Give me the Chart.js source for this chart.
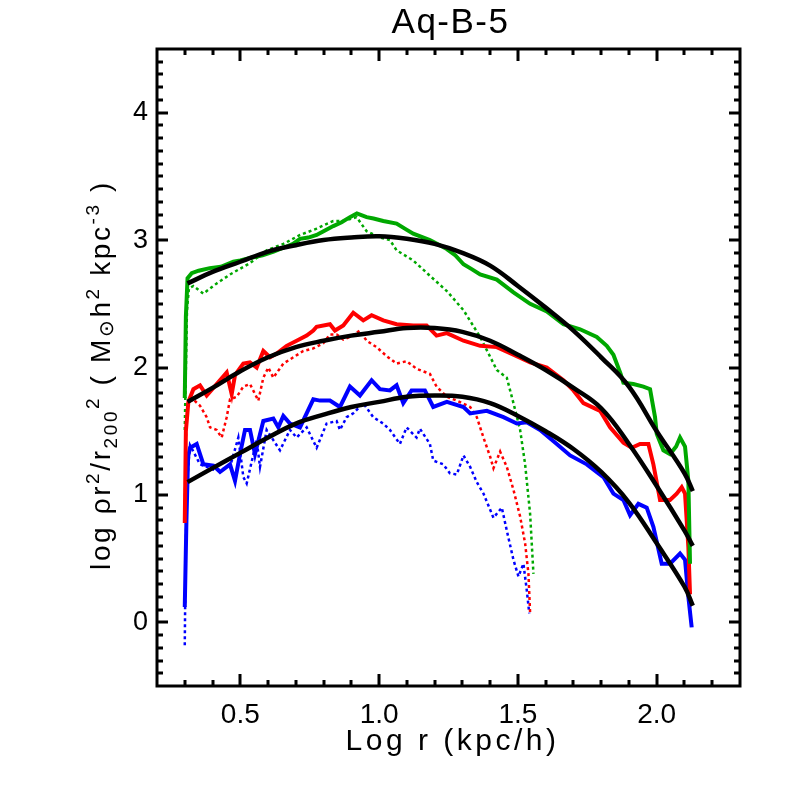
<!DOCTYPE html>
<html>
<head>
<meta charset="utf-8">
<script src="https://cdn.jsdelivr.net/npm/chart.js@4.4.0/dist/chart.umd.min.js"></script>
<style>
  html, body { margin: 0; padding: 0; background: #fff; }
  #wrap { width: 786px; height: 786px; }
</style>
</head>
<body>
<div id="wrap"><canvas id="chart" width="786" height="786"></canvas></div>
<script>
const titleText = 'Aq-B-5';
const xTitle = 'Log r (kpc/h)';
const xTickValues = [0.5, 1.0, 1.5, 2.0];
const yTickValues = [0, 1, 2, 3, 4];

// solid profiles
const greenSolidX = [0.300, 0.304, 0.310, 0.325, 0.35, 0.39, 0.43, 0.475, 0.50, 0.535, 0.58, 0.62, 0.655, 0.69, 0.715, 0.745, 0.775, 0.80, 0.835, 0.865, 0.895, 0.92, 0.955, 0.98, 1.015, 1.063, 1.10, 1.123, 1.183, 1.244, 1.275, 1.304, 1.335, 1.364, 1.424, 1.484, 1.544, 1.604, 1.664, 1.724, 1.784, 1.82, 1.844, 1.87, 1.88, 1.916, 1.952, 1.976, 1.994, 2.00, 2.024, 2.048, 2.07, 2.084, 2.102, 2.114, 2.12];
const greenSolidY = [1.76, 2.40, 2.70, 2.74, 2.76, 2.78, 2.79, 2.83, 2.84, 2.86, 2.88, 2.91, 2.94, 2.97, 3.01, 3.02, 3.04, 3.07, 3.11, 3.14, 3.18, 3.21, 3.18, 3.17, 3.15, 3.13, 3.08, 3.05, 3.00, 2.93, 2.88, 2.81, 2.77, 2.73, 2.69, 2.59, 2.50, 2.44, 2.34, 2.30, 2.24, 2.17, 2.10, 1.95, 1.88, 1.87, 1.85, 1.83, 1.61, 1.48, 1.35, 1.32, 1.38, 1.45, 1.38, 1.11, 0.46];

const redSolidX = [0.300, 0.304, 0.313, 0.331, 0.355, 0.379, 0.415, 0.451, 0.469, 0.481, 0.511, 0.535, 0.559, 0.583, 0.607, 0.631, 0.667, 0.703, 0.739, 0.763, 0.775, 0.823, 0.841, 0.871, 0.907, 0.943, 0.973, 1.015, 1.063, 1.123, 1.171, 1.207, 1.244, 1.304, 1.364, 1.424, 1.484, 1.544, 1.604, 1.664, 1.700, 1.736, 1.796, 1.832, 1.880, 1.910, 1.940, 1.970, 1.988, 2.012, 2.048, 2.072, 2.090, 2.102, 2.114, 2.120];
const redSolidY = [0.78, 1.50, 1.73, 1.83, 1.86, 1.78, 1.87, 1.96, 1.79, 1.94, 2.03, 2.04, 2.00, 2.13, 2.08, 2.11, 2.17, 2.21, 2.25, 2.29, 2.32, 2.34, 2.29, 2.33, 2.43, 2.37, 2.41, 2.37, 2.34, 2.33, 2.33, 2.25, 2.27, 2.21, 2.17, 2.16, 2.10, 2.04, 2.00, 1.90, 1.82, 1.72, 1.66, 1.53, 1.41, 1.37, 1.40, 1.40, 1.24, 0.96, 0.96, 1.01, 1.06, 1.01, 0.59, 0.22];

const blueSolidX = [0.300, 0.306, 0.312, 0.319, 0.343, 0.367, 0.403, 0.427, 0.463, 0.481, 0.499, 0.517, 0.535, 0.553, 0.583, 0.619, 0.637, 0.655, 0.679, 0.715, 0.763, 0.787, 0.823, 0.859, 0.895, 0.931, 0.973, 1.003, 1.039, 1.063, 1.087, 1.117, 1.165, 1.195, 1.244, 1.304, 1.328, 1.388, 1.448, 1.496, 1.532, 1.580, 1.640, 1.688, 1.748, 1.808, 1.844, 1.880, 1.904, 1.934, 1.964, 1.988, 2.018, 2.048, 2.084, 2.102, 2.114, 2.126];
const blueSolidY = [0.12, 0.80, 1.30, 1.37, 1.40, 1.24, 1.23, 1.18, 1.24, 1.11, 1.32, 1.51, 1.51, 1.32, 1.58, 1.60, 1.53, 1.62, 1.56, 1.53, 1.75, 1.74, 1.74, 1.69, 1.85, 1.78, 1.90, 1.83, 1.82, 1.86, 1.72, 1.82, 1.82, 1.69, 1.73, 1.69, 1.64, 1.66, 1.61, 1.56, 1.57, 1.51, 1.40, 1.31, 1.24, 1.14, 1.01, 0.96, 0.84, 0.93, 0.90, 0.75, 0.46, 0.46, 0.54, 0.49, 0.20, -0.04];

// dotted profiles
const greenDotX = [0.300, 0.302, 0.308, 0.315, 0.331, 0.367, 0.415, 0.463, 0.511, 0.535, 0.595, 0.655, 0.715, 0.775, 0.835, 0.871, 0.919, 0.955, 1.003, 1.039, 1.063, 1.123, 1.183, 1.244, 1.304, 1.364, 1.424, 1.460, 1.484, 1.508, 1.526, 1.544, 1.556];
const greenDotY = [1.51, 1.76, 2.45, 2.62, 2.64, 2.58, 2.66, 2.73, 2.79, 2.82, 2.92, 2.97, 3.04, 3.09, 3.15, 3.15, 3.18, 3.07, 3.02, 3.00, 2.92, 2.84, 2.72, 2.60, 2.45, 2.24, 1.98, 1.92, 1.72, 1.51, 1.24, 0.85, 0.38];

const redDotX = [0.300, 0.303, 0.310, 0.330, 0.355, 0.379, 0.391, 0.415, 0.433, 0.451, 0.463, 0.487, 0.511, 0.535, 0.565, 0.583, 0.601, 0.619, 0.655, 0.691, 0.727, 0.763, 0.799, 0.823, 0.847, 0.871, 0.895, 0.931, 0.955, 0.991, 1.027, 1.063, 1.099, 1.135, 1.183, 1.207, 1.244, 1.280, 1.328, 1.352, 1.376, 1.400, 1.412, 1.436, 1.460, 1.484, 1.508, 1.526, 1.538, 1.544];
const redDotY = [0.80, 1.40, 1.72, 1.75, 1.70, 1.61, 1.53, 1.51, 1.45, 1.61, 1.75, 1.77, 1.85, 1.87, 1.74, 1.92, 2.00, 1.92, 2.03, 2.08, 2.13, 2.15, 2.19, 2.26, 2.26, 2.22, 2.24, 2.29, 2.21, 2.16, 2.09, 2.03, 2.05, 1.99, 1.95, 1.85, 1.77, 1.74, 1.69, 1.61, 1.45, 1.30, 1.21, 1.34, 1.22, 1.04, 0.83, 0.62, 0.38, 0.07];

const blueDotX = [0.300, 0.303, 0.308, 0.319, 0.355, 0.415, 0.463, 0.493, 0.511, 0.523, 0.559, 0.571, 0.595, 0.619, 0.643, 0.679, 0.703, 0.739, 0.775, 0.811, 0.847, 0.859, 0.883, 0.907, 0.943, 0.979, 1.015, 1.039, 1.075, 1.099, 1.135, 1.147, 1.183, 1.195, 1.231, 1.255, 1.280, 1.304, 1.328, 1.352, 1.376, 1.412, 1.442, 1.460, 1.484, 1.502, 1.520, 1.532, 1.541];
const blueDotY = [-0.18, 0.50, 1.10, 1.39, 1.24, 1.19, 1.22, 1.45, 1.14, 1.09, 1.43, 1.22, 1.51, 1.43, 1.35, 1.51, 1.45, 1.53, 1.37, 1.56, 1.58, 1.51, 1.61, 1.64, 1.72, 1.61, 1.56, 1.51, 1.40, 1.53, 1.45, 1.52, 1.40, 1.27, 1.24, 1.17, 1.16, 1.31, 1.22, 1.10, 1.01, 0.82, 0.90, 0.72, 0.49, 0.36, 0.46, 0.25, 0.07];

// fitted curves (black)
const fitX = [0.31, 0.4, 0.5, 0.6, 0.7, 0.8, 0.9, 1.0, 1.1, 1.2, 1.3, 1.4, 1.5, 1.6, 1.7, 1.8, 1.9, 2.0, 2.1, 2.13];
const greenFitY = [2.66, 2.75, 2.83, 2.91, 2.96, 3.00, 3.02, 3.03, 3.01, 2.97, 2.90, 2.80, 2.64, 2.47, 2.29, 2.08, 1.85, 1.50, 1.17, 1.03];
const redFitY = [1.73, 1.84, 1.97, 2.08, 2.16, 2.21, 2.25, 2.28, 2.31, 2.31, 2.28, 2.21, 2.10, 1.98, 1.84, 1.68, 1.40, 1.07, 0.72, 0.60];
const blueFitY = [1.10, 1.21, 1.33, 1.45, 1.56, 1.63, 1.69, 1.73, 1.77, 1.78, 1.77, 1.72, 1.62, 1.50, 1.36, 1.18, 0.94, 0.62, 0.28, 0.13];

const GREEN = '#00a800';
const RED = '#ff0000';
const BLUE = '#0000ff';
const FONT = '"Liberation Sans", Arial, Helvetica, sans-serif';

function pairs(xs, ys) {
  return xs.map((x, i) => ({ x: x, y: ys[i] }));
}

function fitSet(ys) {
  return { data: pairs(fitX, ys), borderColor: '#000', borderWidth: 4.5, tension: 0.4, order: 0 };
}
function solidSet(xs, ys, color) {
  return { data: pairs(xs, ys), borderColor: color, borderWidth: 4, tension: 0, order: 1 };
}
function dotSet(xs, ys, color) {
  return { data: pairs(xs, ys), borderColor: color, borderWidth: 2.5, borderDash: [3, 3], tension: 0, order: 2 };
}

// text with a little extra spacing, like the PostScript font of the original
function spacedWidth(ctx, text, spacing) {
  return ctx.measureText(text).width + spacing * text.length;
}
function drawSpaced(ctx, text, x, y, spacing) {
  for (const ch of text) {
    ctx.fillText(ch, x, y);
    x += ctx.measureText(ch).width + spacing;
  }
  return x;
}

const framePlugin = {
  id: 'frame',
  afterDraw(chart) {
    const { ctx, chartArea: a, scales } = chart;
    const xs = scales.x, ys = scales.y;
    ctx.save();
    ctx.strokeStyle = '#000';
    ctx.lineWidth = 3;
    ctx.lineCap = 'butt';
    ctx.beginPath();
    // x ticks every 0.1, major on the labelled values
    for (let i = 3; i <= 22; i++) {
      const px = Math.round(xs.getPixelForValue(i / 10));
      const len = i % 5 === 0 ? 12 : 6;
      ctx.moveTo(px, a.bottom); ctx.lineTo(px, a.bottom - len);
      ctx.moveTo(px, a.top); ctx.lineTo(px, a.top + len);
    }
    for (let i = -4; i <= 44; i++) {
      const py = Math.round(ys.getPixelForValue(i / 10));
      const len = i % 10 === 0 ? 11 : 6;
      ctx.moveTo(a.left, py); ctx.lineTo(a.left + len, py);
      ctx.moveTo(a.right, py); ctx.lineTo(a.right - len, py);
    }
    ctx.stroke();
    ctx.lineCap = 'square';
    ctx.strokeRect(a.left, a.top, a.right - a.left, a.bottom - a.top);

    // title and x title
    ctx.fillStyle = '#000';
    ctx.textAlign = 'left';
    ctx.textBaseline = 'middle';
    const cxMid = (a.left + a.right) / 2;
    ctx.font = '35px ' + FONT;
    let w = spacedWidth(ctx, titleText, 1.5);
    drawSpaced(ctx, titleText, cxMid + 2 - w / 2, 23, 1.5);
    ctx.font = '30px ' + FONT;
    w = spacedWidth(ctx, xTitle, 3.5);
    drawSpaced(ctx, xTitle, cxMid + 4 - w / 2, 742, 3.5);

    // y title with super/subscripts
    const parts = [
      ['log \u03c1r', 28, 0], ['2', 19, -11], ['/r', 28, 0], ['200', 19, 7], ['2', 19, -11],
      [' ( M', 28, 0], ['\u2299', 20, 3], ['h', 28, 0], ['2', 19, -11], [' kpc', 28, 0], ['-3', 19, -11], [' )', 28, 0]
    ];
    const sp = 2.6;
    let total = 0;
    parts.forEach(p => { ctx.font = p[1] + 'px ' + FONT; total += spacedWidth(ctx, p[0], sp); });
    ctx.translate(101, 375);
    ctx.rotate(-Math.PI / 2);
    ctx.textBaseline = 'alphabetic';
    let cx = -total / 2;
    parts.forEach(p => {
      ctx.font = p[1] + 'px ' + FONT;
      cx = drawSpaced(ctx, p[0], cx, 9 + p[2], sp);
    });
    ctx.restore();
  }
};

new Chart(document.getElementById('chart'), {
  type: 'scatter',
  data: {
    datasets: [
      fitSet(greenFitY), fitSet(redFitY), fitSet(blueFitY),
      solidSet(greenSolidX, greenSolidY, GREEN), solidSet(redSolidX, redSolidY, RED), solidSet(blueSolidX, blueSolidY, BLUE),
      dotSet(greenDotX, greenDotY, GREEN), dotSet(redDotX, redDotY, RED), dotSet(blueDotX, blueDotY, BLUE)
    ].map(d => Object.assign({ showLine: true, pointRadius: 0, fill: false }, d))
  },
  options: {
    responsive: false,
    animation: false,
    layout: { padding: { left: 107, right: 46, top: 49, bottom: 50 } },
    plugins: { legend: { display: false }, tooltip: { enabled: false } },
    scales: {
      x: {
        type: 'linear', min: 0.2, max: 2.3,
        grid: { display: false, drawTicks: false }, border: { display: false },
        afterBuildTicks: s => { s.ticks = xTickValues.map(v => ({ value: v })); },
        afterFit: s => { s.height = 50; },
        ticks: { padding: 12, color: '#000', font: { family: FONT, size: 28 }, maxRotation: 0, autoSkip: false, callback: v => v.toFixed(1) }
      },
      y: {
        type: 'linear', min: -0.5, max: 4.5,
        grid: { display: false, drawTicks: false }, border: { display: false },
        afterBuildTicks: s => { s.ticks = yTickValues.map(v => ({ value: v })); },
        afterFit: s => { s.width = 50; },
        ticks: { padding: 9, color: '#000', font: { family: FONT, size: 27 }, autoSkip: false, callback: v => String(v) }
      }
    }
  },
  plugins: [framePlugin]
});
</script>
</body>
</html>
